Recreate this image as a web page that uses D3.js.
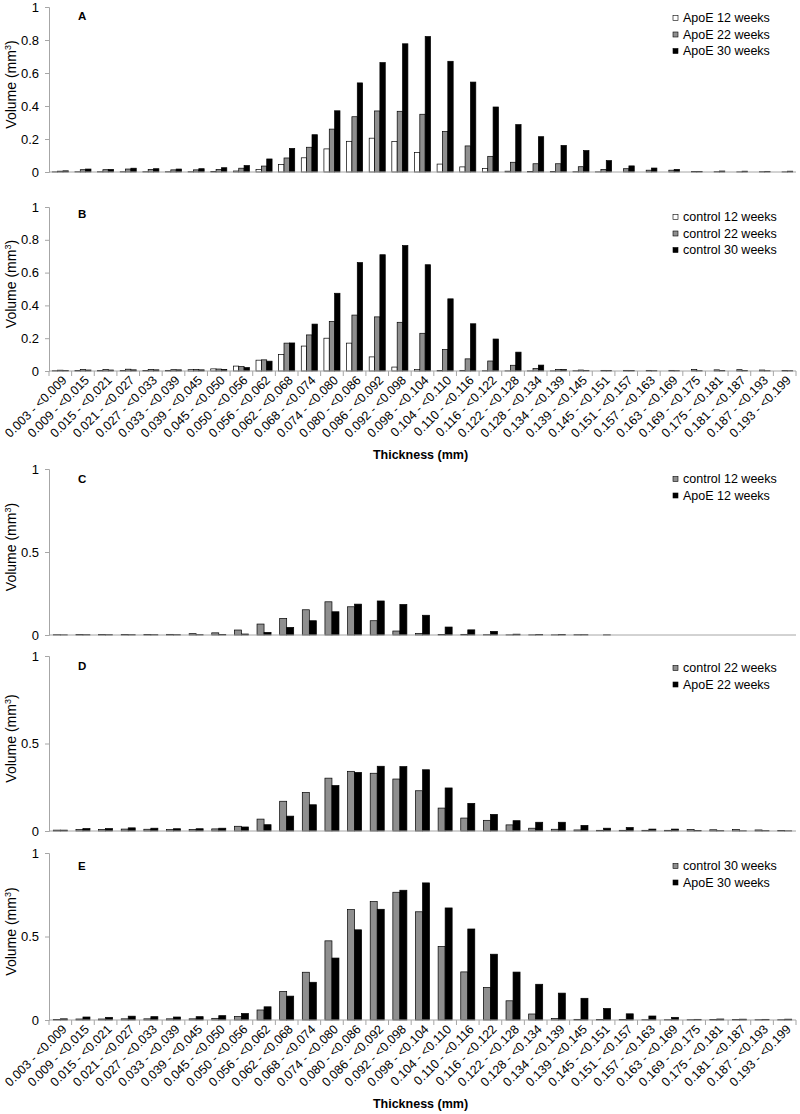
<!DOCTYPE html>
<html>
<head>
<meta charset="utf-8">
<script src="https://cdn.jsdelivr.net/npm/d3@7"></script>
<style>
  html, body { margin: 0; padding: 0; background: #fff; }
  svg { display: block; font-family: "Liberation Sans", Arial, sans-serif; }
</style>
</head>
<body>
<div id="chart"></div>
<script>
const categories = [
  "0.003 - <0.009","0.009 - <0.015","0.015 - <0.021","0.021 - <0.027","0.027 - <0.033",
  "0.033 - <0.039","0.039 - <0.045","0.045 - <0.050","0.050 - <0.056","0.056 - <0.062",
  "0.062 - <0.068","0.068 - <0.074","0.074 - <0.080","0.080 - <0.086","0.086 - <0.092",
  "0.092 - <0.098","0.098 - <0.104","0.104 - <0.110","0.110 - <0.116","0.116 - <0.122",
  "0.122 - <0.128","0.128 - <0.134","0.134 - <0.139","0.139 - <0.145","0.145 - <0.151",
  "0.151 - <0.157","0.157 - <0.163","0.163 - <0.169","0.169 - <0.175","0.175 - <0.181",
  "0.181 - <0.187","0.187 - <0.193","0.193 - <0.199"
];

const apoe12 = [0.001,0.002,0.002,0.002,0.002,0.002,0.002,0.003,0.006,0.016,0.046,0.086,0.140,0.186,0.205,0.184,0.119,0.048,0.031,0.022,0.005,0.003,0.003,0.002,0.001,0,0,0,0,0,0,0,0];
const apoe22 = [0.005,0.014,0.014,0.018,0.016,0.013,0.013,0.016,0.023,0.036,0.085,0.150,0.260,0.335,0.370,0.368,0.350,0.246,0.158,0.095,0.059,0.050,0.050,0.032,0.016,0.020,0.011,0.011,0.003,0.002,0.001,0.002,0.001];
const apoe30 = [0.007,0.018,0.016,0.023,0.020,0.018,0.020,0.026,0.039,0.079,0.143,0.226,0.371,0.540,0.663,0.777,0.821,0.671,0.545,0.394,0.287,0.214,0.161,0.130,0.069,0.037,0.024,0.016,0.004,0.006,0.005,0.004,0.005];
const control12 = [0.002,0.003,0.003,0.003,0.003,0.004,0.008,0.013,0.030,0.066,0.100,0.152,0.200,0.170,0.086,0.024,0.010,0.003,0.004,0.002,0.001,0.001,0.001,0.002,0,0,0,0,0,0,0,0,0];
const control22 = [0.005,0.009,0.009,0.011,0.010,0.008,0.009,0.012,0.027,0.068,0.170,0.220,0.302,0.341,0.330,0.297,0.230,0.131,0.074,0.061,0.035,0.016,0.010,0.006,0.004,0.004,0.004,0.004,0.009,0.007,0.008,0.006,0.003];
const control30 = [0.003,0.006,0.006,0.007,0.007,0.007,0.007,0.010,0.021,0.060,0.171,0.286,0.474,0.661,0.709,0.765,0.648,0.440,0.288,0.195,0.115,0.036,0.009,0.004,0.003,0.003,0.002,0.002,0.002,0.003,0.003,0.002,0.002];

const yTicksFine = [0, 0.2, 0.4, 0.6, 0.8, 1];
const yTicksCoarse = [0, 0.5, 1];

const panelLetters = ["A", "B", "C", "D", "E"];
const seriesNamesA = ["ApoE 12 weeks", "ApoE 22 weeks", "ApoE 30 weeks"];
const seriesNamesB = ["control 12 weeks", "control 22 weeks", "control 30 weeks"];
const seriesNamesC = ["control 12 weeks", "ApoE 12 weeks"];
const seriesNamesD = ["control 22 weeks", "ApoE 22 weeks"];
const seriesNamesE = ["control 30 weeks", "ApoE 30 weeks"];

const xTitle = "Thickness (mm)";

// ---- layout ----
const W = 800, H = 1114;
const xLeft = 49, xRight = 796;
const axisColor = "#a6a6a6";
const FILL_WHITE = "#ffffff", FILL_GRAY = "#8f8f8f", FILL_BLACK = "#000000";

const panels = [
  { letter: panelLetters[0], top: 7,   bottom: 172,  ticks: yTicksFine,   names: seriesNamesA, data: [apoe12, apoe22, apoe30], fills: [FILL_WHITE, FILL_GRAY, FILL_BLACK], legendY: 18,  letterY: 16,  xLabels: false },
  { letter: panelLetters[1], top: 207, bottom: 371,  ticks: yTicksFine,   names: seriesNamesB, data: [control12, control22, control30], fills: [FILL_WHITE, FILL_GRAY, FILL_BLACK], legendY: 217, letterY: 214, xLabels: true },
  { letter: panelLetters[2], top: 469, bottom: 635,  ticks: yTicksCoarse, names: seriesNamesC, data: [control12, apoe12], fills: [FILL_GRAY, FILL_BLACK], legendY: 479, letterY: 479, xLabels: false },
  { letter: panelLetters[3], top: 656, bottom: 831,  ticks: yTicksCoarse, names: seriesNamesD, data: [control22, apoe22], fills: [FILL_GRAY, FILL_BLACK], legendY: 668, letterY: 666, xLabels: false },
  { letter: panelLetters[4], top: 853, bottom: 1020, ticks: yTicksCoarse, names: seriesNamesE, data: [control30, apoe30], fills: [FILL_GRAY, FILL_BLACK], legendY: 866, letterY: 866, xLabels: true }
];

const svg = d3.select("#chart").append("svg")
  .attr("width", W).attr("height", H)
  .attr("viewBox", `0 0 ${W} ${H}`);

svg.append("rect").attr("width", W).attr("height", H).attr("fill", "#fff");

panels.forEach(p => {
  const g = svg.append("g");
  const nS = p.data.length;
  const groupPad = nS === 3 ? 0.29 : 0.38;

  const x = d3.scaleBand().domain(categories).range([xLeft, xRight])
    .paddingInner(groupPad).paddingOuter(groupPad / 2);
  const xs = d3.scaleBand().domain(d3.range(nS)).range([0, x.bandwidth()]).padding(0);
  const y = d3.scaleLinear().domain([0, 1]).range([p.bottom, p.top]);

  // y axis
  const yAxis = d3.axisLeft(y).tickValues(p.ticks).tickSize(4).tickPadding(6)
    .tickFormat(d => d3.format("~g")(d));
  const ya = g.append("g").attr("transform", `translate(${xLeft},0)`).call(yAxis);
  ya.select(".domain").attr("stroke", axisColor);
  ya.selectAll(".tick line").attr("stroke", axisColor);
  ya.selectAll(".tick text").attr("font-size", 13).attr("fill", "#000")
    .attr("font-family", "Liberation Sans, Arial, sans-serif");

  // y axis title
  const yt = g.append("text")
    .attr("transform", `translate(16,${(p.top + p.bottom) / 2 - 5}) rotate(-90)`)
    .attr("text-anchor", "middle").attr("font-size", 14).attr("fill", "#000");
  yt.append("tspan").text("Volume (mm");
  yt.append("tspan").attr("font-size", 9).attr("dy", -5).text("3");
  yt.append("tspan").attr("dy", 5).text(")");

  // bars
  p.data.forEach((series, si) => {
    g.append("g").selectAll("rect").data(series).join("rect")
      .attr("x", (d, i) => x(categories[i]) + xs(si))
      .attr("width", xs.bandwidth())
      .attr("y", d => y(d))
      .attr("height", d => p.bottom - y(d))
      .attr("fill", p.fills[si])
      .attr("stroke", "#000")
      .attr("stroke-width", 0.7);
  });

  // x axis line
  const step = x.step();
  const xa = g.append("g").attr("transform", `translate(0,${p.bottom})`);
  xa.append("line").attr("x1", xLeft).attr("x2", xRight).attr("y1", 0).attr("y2", 0)
    .attr("stroke", axisColor).attr("stroke-width", 1);

  if (p.xLabels) {
    const boundaries = d3.range(categories.length + 1).map(i => xLeft + i * step);
    xa.selectAll("line.tk").data(boundaries).join("line").attr("class", "tk")
      .attr("x1", d => d).attr("x2", d => d).attr("y1", 0).attr("y2", 5)
      .attr("stroke", axisColor);
    xa.selectAll("text.lbl").data(categories).join("text").attr("class", "lbl")
      .attr("transform", d => `translate(${x(d) + x.bandwidth() / 2 + 7},${10}) rotate(-45)`)
      .attr("text-anchor", "end")
      .attr("font-size", 12.5).attr("fill", "#000")
      .text(d => d);
    g.append("text")
      .attr("x", (xLeft + xRight) / 2 - 2).attr("y", p.bottom + 88)
      .attr("text-anchor", "middle").attr("font-size", 12.5).attr("font-weight", "bold")
      .attr("fill", "#000").text(xTitle);
  }

  // panel letter
  g.append("text").attr("x", 78).attr("y", p.letterY).attr("dy", "0.35em")
    .attr("font-size", 11.5).attr("font-weight", "bold").attr("fill", "#000").text(p.letter);

  // legend
  const lg = g.append("g").attr("transform", `translate(673,${p.legendY})`);
  p.names.forEach((name, i) => {
    const row = lg.append("g").attr("transform", `translate(0,${i * 16.5})`);
    row.append("rect").attr("x", 0).attr("y", -2.5).attr("width", 5).attr("height", 5)
      .attr("fill", p.fills[i]).attr("stroke", "#000").attr("stroke-width", 0.6);
    row.append("text").attr("x", 10).attr("y", 0).attr("dy", "0.35em")
      .attr("font-size", 12.5).attr("fill", "#000").text(name);
  });
});
</script>
</body>
</html>
